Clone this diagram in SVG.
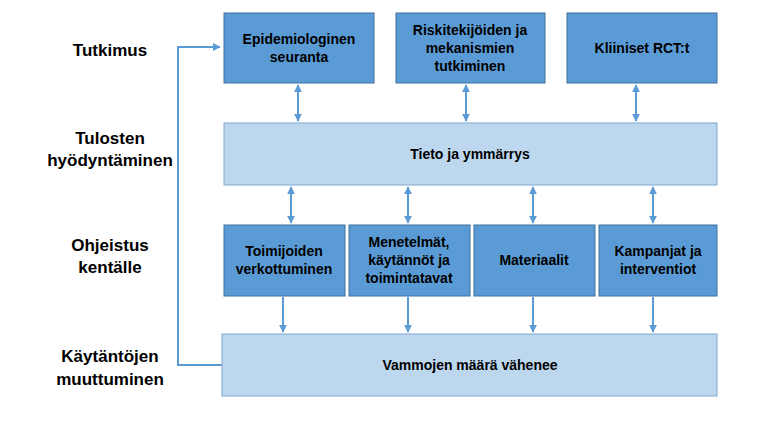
<svg xmlns="http://www.w3.org/2000/svg" width="768" height="432" viewBox="0 0 768 432">
<style>
.d{fill:#5b9bd5;stroke:#41719c;stroke-width:1}
.l{fill:#bdd7ee;stroke:#7fa7cf;stroke-width:1}
text{font-family:"Liberation Sans",Arial,sans-serif;font-weight:bold;fill:#000;text-anchor:middle}
.t{font-size:14px}
.s{font-size:17px}
.c{stroke:#5b9bd5;stroke-width:2;fill:none}
</style>
<defs>
<marker id="a" viewBox="0 0 10 10" refX="9" refY="5" markerWidth="4" markerHeight="4" orient="auto-start-reverse"><path d="M0,0L10,5L0,10z" fill="#5b9bd5"/></marker>
</defs>
<g id="labels">
<text class="s" x="110" y="56">Tutkimus</text>
<text class="s" x="110" y="144">Tulosten</text>
<text class="s" x="110" y="166">hyödyntäminen</text>
<text class="s" x="110" y="251">Ohjeistus</text>
<text class="s" x="110" y="273">kentälle</text>
<text class="s" x="110" y="362">Käytäntöjen</text>
<text class="s" x="110" y="385">muuttuminen</text>
</g>
<g id="connectors">
<path class="c" d="M222,365H178V47H220" marker-end="url(#a)"/>
<path class="c" d="M298,85V121" marker-start="url(#a)" marker-end="url(#a)"/>
<path class="c" d="M466,85V121" marker-start="url(#a)" marker-end="url(#a)"/>
<path class="c" d="M636,85V121" marker-start="url(#a)" marker-end="url(#a)"/>
<path class="c" d="M291,187V223" marker-start="url(#a)" marker-end="url(#a)"/>
<path class="c" d="M408,187V223" marker-start="url(#a)" marker-end="url(#a)"/>
<path class="c" d="M533,187V223" marker-start="url(#a)" marker-end="url(#a)"/>
<path class="c" d="M653,187V223" marker-start="url(#a)" marker-end="url(#a)"/>
<path class="c" d="M283,297V332" marker-end="url(#a)"/>
<path class="c" d="M408,297V332" marker-end="url(#a)"/>
<path class="c" d="M533,297V332" marker-end="url(#a)"/>
<path class="c" d="M653,297V332" marker-end="url(#a)"/>
</g>
<g id="n1"><rect class="d" x="224" y="13" width="150" height="70"/><text class="t" x="299" y="44">Epidemiologinen</text><text class="t" x="299" y="62">seuranta</text></g>
<g id="n2"><rect class="d" x="396" y="13" width="149" height="70"/><text class="t" x="470" y="35">Riskitekijöiden ja</text><text class="t" x="470" y="53">mekanismien</text><text class="t" x="470" y="71">tutkiminen</text></g>
<g id="n3"><rect class="d" x="567" y="13" width="150" height="70"/><text class="t" x="642" y="53">Kliiniset RCT:t</text></g>
<g id="n4"><rect class="l" x="224" y="123" width="493" height="62"/><text class="t" x="470" y="159">Tieto ja ymmärrys</text></g>
<g id="n5"><rect class="d" x="224" y="225" width="121" height="71"/><text class="t" x="284" y="256">Toimijoiden</text><text class="t" x="284" y="274">verkottuminen</text></g>
<g id="n6"><rect class="d" x="349" y="225" width="121" height="71"/><text class="t" x="409" y="247">Menetelmät,</text><text class="t" x="409" y="265">käytännöt ja</text><text class="t" x="409" y="283">toimintatavat</text></g>
<g id="n7"><rect class="d" x="474" y="225" width="121" height="71"/><text class="t" x="534" y="265">Materiaalit</text></g>
<g id="n8"><rect class="d" x="599" y="225" width="118" height="71"/><text class="t" x="658" y="256">Kampanjat ja</text><text class="t" x="658" y="274">interventiot</text></g>
<g id="n9"><rect class="l" x="222" y="334" width="495" height="62"/><text class="t" x="470" y="370">Vammojen määrä vähenee</text></g>
</svg>
